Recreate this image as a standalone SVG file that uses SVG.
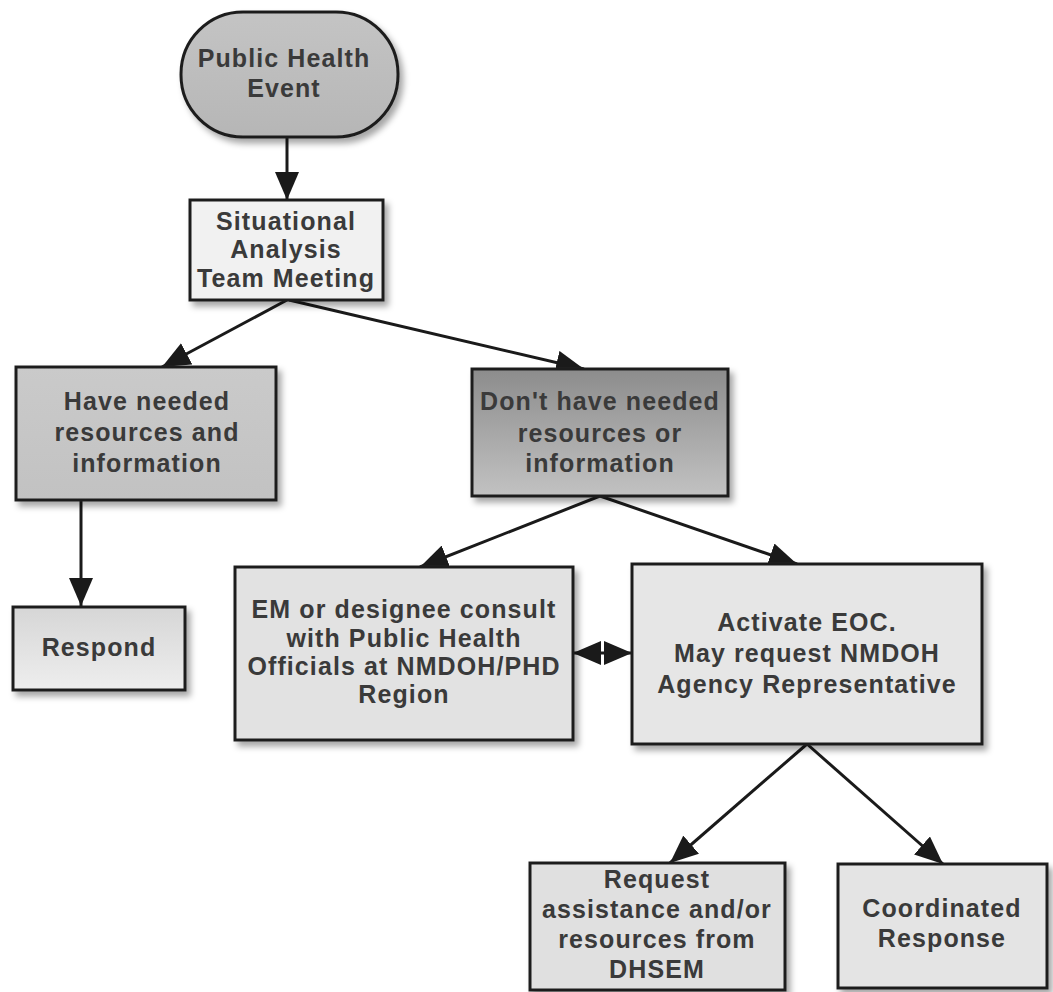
<svg xmlns="http://www.w3.org/2000/svg" width="1053" height="992" viewBox="0 0 1053 992">
<defs>
<style>
.box{stroke:#1e1e1e;stroke-width:3;filter:url(#sh)}
.t{font-family:"Liberation Sans",Arial,sans-serif;font-size:25px;font-weight:bold;letter-spacing:1.1px;fill:#3a3a3a;text-anchor:middle}
.c{stroke:#1a1a1a;stroke-width:3;fill:none;marker-end:url(#ah)}
</style>
<filter id="sh" x="-10%" y="-10%" width="125%" height="130%">
<feDropShadow dx="4" dy="5" stdDeviation="3" flood-color="#000" flood-opacity="0.35"/>
</filter>
<marker id="ah" markerUnits="userSpaceOnUse" markerWidth="30" markerHeight="24" refX="28" refY="12" orient="auto">
<path d="M0,0 L28,12 L0,24 z" fill="#1a1a1a"/>
</marker>
<marker id="as" markerUnits="userSpaceOnUse" markerWidth="30" markerHeight="24" refX="0" refY="12" orient="auto">
<path d="M28,0 L0,12 L28,24 z" fill="#1a1a1a"/>
</marker>
<linearGradient id="gPhe" x1="0" y1="0" x2="0" y2="1"><stop offset="0" stop-color="#c4c4c4"/><stop offset="1" stop-color="#b6b6b6"/></linearGradient>
<linearGradient id="gDark" x1="0" y1="0" x2="0" y2="1"><stop offset="0" stop-color="#8c8c8c"/><stop offset="1" stop-color="#c2c2c2"/></linearGradient>
<linearGradient id="gLight" x1="0" y1="0" x2="0" y2="1"><stop offset="0" stop-color="#d6d6d6"/><stop offset="1" stop-color="#eeeeee"/></linearGradient>
<linearGradient id="gMid" x1="0" y1="0" x2="0" y2="1"><stop offset="0" stop-color="#cacaca"/><stop offset="1" stop-color="#c2c2c2"/></linearGradient>
</defs>
<rect width="1053" height="992" fill="#ffffff"/>

<g id="connectors">
<line class="c" x1="287" y1="137" x2="287" y2="200"/>
<line class="c" x1="287" y1="300" x2="162" y2="367"/>
<line class="c" x1="289" y1="300" x2="584" y2="369"/>
<line class="c" x1="81" y1="500" x2="81" y2="606"/>
<line class="c" x1="600" y1="496" x2="420" y2="567"/>
<line class="c" x1="600" y1="496" x2="797" y2="564"/>
<line x1="573" y1="653" x2="632" y2="653" stroke="#1a1a1a" stroke-width="3" marker-start="url(#as)" marker-end="url(#ah)"/>
<line class="c" x1="807" y1="744" x2="670" y2="863"/>
<line class="c" x1="807" y1="744" x2="943" y2="864"/>
</g>

<g id="n-public-health-event">
<rect class="box" x="181" y="12" width="217" height="125" rx="62" ry="62" fill="url(#gPhe)"/>
<text class="t" x="284" y="67">Public Health</text>
<text class="t" x="284" y="97">Event</text>
</g>

<g id="n-situational">
<rect class="box" x="190" y="200" width="193" height="100" fill="#f1f1f1"/>
<text class="t" x="286" y="230">Situational</text>
<text class="t" x="286" y="258">Analysis</text>
<text class="t" x="286" y="287">Team Meeting</text>
</g>

<g id="n-have">
<rect class="box" x="16" y="367" width="260" height="133" fill="url(#gMid)"/>
<text class="t" x="147" y="410">Have needed</text>
<text class="t" x="147" y="441">resources and</text>
<text class="t" x="147" y="472">information</text>
</g>

<g id="n-dont-have">
<rect class="box" x="472" y="369" width="256" height="127" fill="url(#gDark)"/>
<text class="t" x="600" y="410">Don't have needed</text>
<text class="t" x="600" y="442">resources or</text>
<text class="t" x="600" y="472">information</text>
</g>

<g id="n-respond">
<rect class="box" x="13" y="607" width="172" height="83" fill="url(#gLight)"/>
<text class="t" x="99" y="656">Respond</text>
</g>

<g id="n-em">
<rect class="box" x="235" y="567" width="338" height="173" fill="#e2e2e2"/>
<text class="t" x="404" y="618">EM or designee consult</text>
<text class="t" x="404" y="647">with Public Health</text>
<text class="t" x="404" y="675">Officials at NMDOH/PHD</text>
<text class="t" x="404" y="703">Region</text>
</g>

<g id="n-activate">
<rect class="box" x="632" y="564" width="350" height="180" fill="#e6e6e6"/>
<text class="t" x="807" y="631">Activate EOC.</text>
<text class="t" x="807" y="662">May request NMDOH</text>
<text class="t" x="807" y="693">Agency Representative</text>
</g>

<g id="n-request">
<rect class="box" x="530" y="863" width="255" height="127" fill="#e0e0e0"/>
<text class="t" x="657" y="888">Request</text>
<text class="t" x="657" y="918">assistance and/or</text>
<text class="t" x="657" y="948">resources from</text>
<text class="t" x="657" y="978">DHSEM</text>
</g>

<g id="n-coordinated">
<rect class="box" x="838" y="864" width="209" height="124" fill="#e4e4e4"/>
<text class="t" x="942" y="917">Coordinated</text>
<text class="t" x="942" y="947">Response</text>
</g>
</svg>
